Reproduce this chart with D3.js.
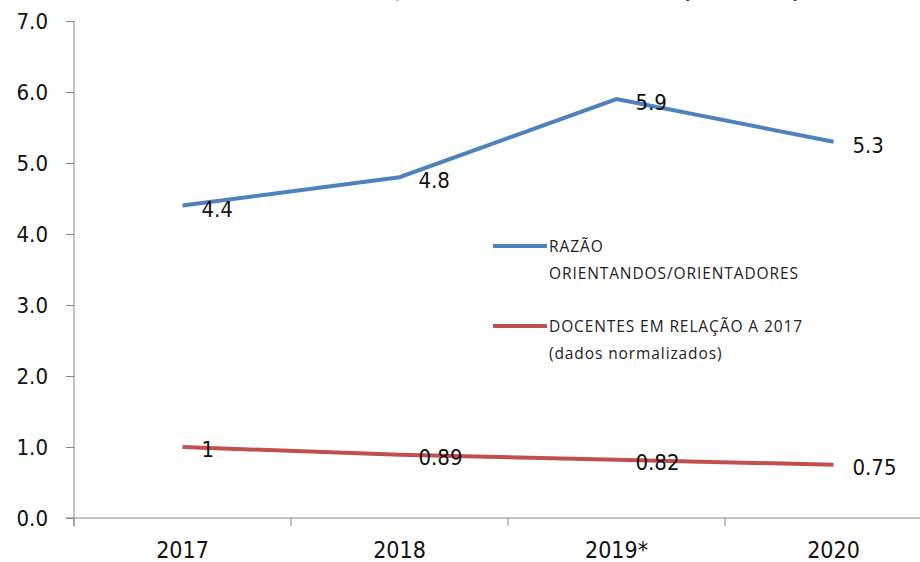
<!DOCTYPE html>
<html>
<head>
<meta charset="utf-8">
<script src="https://cdn.jsdelivr.net/npm/d3@7"></script>
<style>
  body { margin:0; background:#fff; }
  svg { display:block; }
</style>
</head>
<body>
<svg id="chart" width="920" height="562"></svg>
<script>
// data
var years = ["2017", "2018", "2019*", "2020"];
var razao = [4.4, 4.8, 5.9, 5.3];
var docentes = [1, 0.89, 0.82, 0.75];
var razaoLabels = ["4.4", "4.8", "5.9", "5.3"];
var docentesLabels = ["1", "0.89", "0.82", "0.75"];
var yTicks = [0, 1, 2, 3, 4, 5, 6, 7];
var titulo = "RAZÃO ORIENTANDOS/ORIENTADORES E DOCENTES (2017-2020)";

var svg = d3.select("#chart");

var mLeft = 74, mTop = 21, mBottom = 518, mRight = 942;

var x = d3.scaleBand().domain(years).range([mLeft, mRight]);
var y = d3.scaleLinear().domain([0, 7]).range([mBottom, mTop]);

var azul = "#4F81BD", vermelho = "#C0504D", eixo = "#868686";

// title, almost entirely cut off at the top edge as in the original
svg.append("text")
    .attr("x", 493)
    .attr("y", -1)
    .style("font-family", "DejaVu Sans")
    .style("font-weight", "bold")
    .style("font-size", "17px")
    .style("text-anchor", "middle")
    .style("fill", "#333")
    .text(titulo);

// y axis
var yAxis = svg.append("g")
    .attr("transform", "translate(" + mLeft + ",0)")
    .call(d3.axisLeft(y).tickValues(yTicks).tickFormat(d3.format(".1f")).tickSize(8).tickPadding(18));
yAxis.select(".domain").attr("stroke", eixo).attr("d", "M0," + mTop + "V" + (mBottom + 8));
yAxis.selectAll(".tick line").attr("stroke", eixo);
yAxis.selectAll(".tick text")
    .style("font-family", "DejaVu Sans Condensed")
    .style("font-size", "22px")
    .style("fill", "#111");

// x axis
var xAxis = svg.append("g")
    .attr("transform", "translate(0," + mBottom + ")")
    .call(d3.axisBottom(x).tickSize(0).tickPadding(24));
xAxis.select(".domain").attr("stroke", eixo).attr("d", "M" + (mLeft - 8) + ",0H" + mRight);
xAxis.selectAll(".tick text")
    .style("font-family", "DejaVu Sans Condensed")
    .style("font-size", "23px")
    .style("fill", "#111");
xAxis.selectAll(".sep")
    .data(years.concat(["fim"]))
    .enter().append("line")
    .attr("class", "sep")
    .attr("x1", function(d, i){ return mLeft + i * x.bandwidth(); })
    .attr("x2", function(d, i){ return mLeft + i * x.bandwidth(); })
    .attr("y1", 0)
    .attr("y2", 8)
    .attr("stroke", eixo);

var cx = function(d, i){ return x(years[i]) + x.bandwidth() / 2; };

var linha = d3.line()
    .x(function(d, i){ return cx(d, i); })
    .y(function(d){ return y(d); });

svg.append("path")
    .datum(razao)
    .attr("d", linha)
    .attr("fill", "none")
    .attr("stroke", azul)
    .attr("stroke-width", 4);

svg.append("path")
    .datum(docentes)
    .attr("d", linha)
    .attr("fill", "none")
    .attr("stroke", vermelho)
    .attr("stroke-width", 4);

// data labels
function rotulos(valores, textos, dy){
    svg.append("g").selectAll("text")
        .data(valores)
        .enter().append("text")
        .attr("x", function(d, i){ return cx(d, i) + 19; })
        .attr("y", function(d){ return y(d) + dy; })
        .style("font-family", "DejaVu Sans Condensed")
        .style("font-size", "22px")
        .style("fill", "#111")
        .text(function(d, i){ return textos[i]; });
}
rotulos(razao, razaoLabels, 11);
rotulos(docentes, docentesLabels, 10);

// legend
var legenda = [
    {cor: azul, y: 246, linhas: ["RAZÃO", "ORIENTANDOS/ORIENTADORES"]},
    {cor: vermelho, y: 326, linhas: ["DOCENTES EM RELAÇÃO A 2017", "(dados normalizados)"]}
];
for (var i = 0; i < legenda.length; i++) {
    svg.append("line")
        .attr("x1", 493).attr("x2", 547)
        .attr("y1", legenda[i].y).attr("y2", legenda[i].y)
        .attr("stroke", legenda[i].cor)
        .attr("stroke-width", 4);
    for (var j = 0; j < legenda[i].linhas.length; j++) {
        svg.append("text")
            .attr("x", 549)
            .attr("y", legenda[i].y + 6 + j * 27)
            .style("font-family", "Open Sans")
            .style("font-size", "15.5px")
            .style("letter-spacing", "0.9px")
            .style("fill", "#222")
            .text(legenda[i].linhas[j]);
    }
}
</script>
</body>
</html>
